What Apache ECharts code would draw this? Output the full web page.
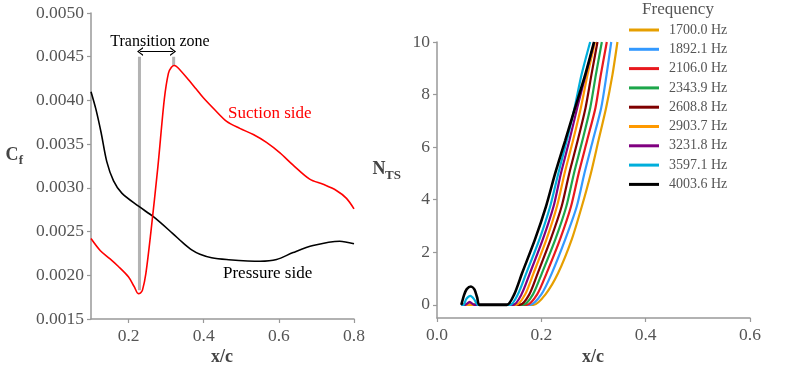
<!DOCTYPE html>
<html>
<head>
<meta charset="utf-8">
<script src="https://cdn.jsdelivr.net/npm/echarts@6/dist/echarts.min.js"></script>
<style>
  body { margin: 0; background: #fff; }
  #box { width: 794px; height: 373px; }
</style>
</head>
<body>
<div id="box"></div>
<script>
// ---- left panel: skin friction ----
var suctionSide = [
  [0.1, 0.00242], [0.125, 0.00228], [0.15, 0.00219], [0.173, 0.0021], [0.2, 0.00198],
  [0.215, 0.00187], [0.226, 0.00179], [0.232, 0.0018], [0.237, 0.00183], [0.246, 0.00202],
  [0.259, 0.00248], [0.278, 0.00324], [0.295, 0.00401], [0.306, 0.00431], [0.314, 0.00438],
  [0.322, 0.0044], [0.33, 0.00438], [0.355, 0.00426], [0.38, 0.00413], [0.399, 0.00403],
  [0.43, 0.00389], [0.461, 0.00376], [0.496, 0.00368], [0.532, 0.00361], [0.567, 0.00352],
  [0.603, 0.0034], [0.638, 0.00326], [0.682, 0.0031], [0.718, 0.00304], [0.753, 0.00297],
  [0.78, 0.00288], [0.8, 0.00276]
];
var pressureSide = [
  [0.1, 0.0041], [0.113, 0.0039], [0.127, 0.00363], [0.142, 0.0033], [0.16, 0.00308],
  [0.182, 0.00294], [0.2265, 0.00279], [0.266, 0.00267], [0.317, 0.00248], [0.345, 0.00237],
  [0.368, 0.00229], [0.39, 0.00224], [0.421, 0.0022], [0.461, 0.00218], [0.55, 0.00216],
  [0.594, 0.00218], [0.638, 0.00226], [0.691, 0.00234], [0.762, 0.00239], [0.8, 0.00236]
];
var transStart = [[0.229, 0.00183], [0.229, 0.0045]];
var transEnd = [[0.32, 0.0044], [0.32, 0.0045]];
var cfXTicks = [0.2, 0.4, 0.6, 0.8];

// ---- right panel: N factor per frequency ----
var freqNames = ['1700.0 Hz', '1892.1 Hz', '2106.0 Hz', '2343.9 Hz', '2608.8 Hz',
                 '2903.7 Hz', '3231.8 Hz', '3597.1 Hz', '4003.6 Hz'];
var freqColors = ['#e69f00', '#3399ff', '#e8191e', '#1da64a', '#7f0000',
                  '#ff9900', '#800080', '#00aedb', '#000000'];
// N values at which the rising branch is read
var ntsLevels = [0, 0.4, 1.2, 2.5, 3.75, 5, 6.25, 7.5, 8.75, 10];
// x/c positions of the rising branch for each frequency (same order as freqNames)
var riseX = [
  [0.185, 0.208, 0.232, 0.2585, 0.2777, 0.2949, 0.3095, 0.3242, 0.3363, 0.3459],
  [0.178, 0.200, 0.220, 0.246, 0.268, 0.2825, 0.2987, 0.3148, 0.325, 0.334],
  [0.172, 0.192, 0.210, 0.236, 0.257, 0.2715, 0.2877, 0.3038, 0.314, 0.3255],
  [0.165, 0.184, 0.201, 0.227, 0.248, 0.2625, 0.2787, 0.2938, 0.3045, 0.316],
  [0.159, 0.177, 0.193, 0.218, 0.239, 0.2535, 0.2697, 0.2848, 0.296, 0.3076],
  [0.152, 0.169, 0.185, 0.210, 0.230, 0.2445, 0.2607, 0.2758, 0.2885, 0.303],
  [0.146, 0.162, 0.178, 0.203, 0.2235, 0.2375, 0.2537, 0.2688, 0.285, 0.3015],
  [0.140, 0.155, 0.171, 0.1965, 0.217, 0.2325, 0.2487, 0.2638, 0.277, 0.2936],
  [0.134, 0.148, 0.163, 0.188, 0.209, 0.2265, 0.2457, 0.2648, 0.284, 0.301]
];
// small hump near the leading edge (only the highest frequencies)
var humps = [
  [[0.0466, 0], [0.0816, 0]],
  [[0.0466, 0], [0.0816, 0]],
  [[0.0466, 0], [0.0816, 0]],
  [[0.0466, 0], [0.0816, 0]],
  [[0.0466, 0], [0.0816, 0]],
  [[0.0466, 0], [0.0816, 0]],
  [[0.0466, 0], [0.054, 0], [0.0625, 0.11], [0.0715, 0], [0.0816, 0]],
  [[0.0466, 0], [0.051, 0], [0.056, 0.22], [0.064, 0.34], [0.071, 0.22], [0.078, 0], [0.0816, 0]],
  [[0.0466, 0], [0.052, 0.38], [0.057, 0.6], [0.065, 0.7], [0.072, 0.58], [0.077, 0.28], [0.0816, 0]]
];
var ntsYTicks = [0, 2, 4, 6, 8, 10];

var serif = 'Liberation Serif';
var gridColor = '#999';
var labelColor = '#555';

function axisBase() {
  return {
    type: 'value',
    splitLine: { show: false },
    axisLine: { show: true, onZero: false, lineStyle: { color: gridColor, width: 1.5 } },
    axisTick: { show: true, inside: false, length: 4, lineStyle: { color: gridColor, width: 1.2 } },
    axisLabel: { color: labelColor, fontFamily: serif, fontSize: 17.5 }
  };
}

var xLeft = axisBase();
xLeft.gridIndex = 0; xLeft.min = 0.1; xLeft.max = 0.8;
xLeft.axisLabel.customValues = cfXTicks; xLeft.axisTick.customValues = cfXTicks;
xLeft.axisLabel.margin = 8;

var yLeft = axisBase();
yLeft.gridIndex = 0; yLeft.min = 0.0015; yLeft.max = 0.005; yLeft.interval = 0.0005;
yLeft.axisLabel.formatter = function (v) { return v.toFixed(4); };
yLeft.axisLabel.margin = 7;

var xRight = axisBase();
xRight.gridIndex = 1; xRight.min = 0; xRight.max = 0.6; xRight.interval = 0.2;
xRight.axisLabel.formatter = function (v) { return v.toFixed(1); };
xRight.axisLabel.margin = 8;

var yRight = axisBase();
yRight.gridIndex = 1; yRight.min = -0.5; yRight.max = 10;
yRight.axisLabel.customValues = ntsYTicks; yRight.axisTick.customValues = ntsYTicks;
yRight.axisLabel.margin = 7;

var series = [
  {
    name: 'trans1', type: 'line', xAxisIndex: 0, yAxisIndex: 0, data: transStart,
    symbol: 'none', silent: true, lineStyle: { color: '#b3b3b3', width: 3 }, z: 1
  },
  {
    name: 'trans2', type: 'line', xAxisIndex: 0, yAxisIndex: 0, data: transEnd,
    symbol: 'none', silent: true, lineStyle: { color: '#b3b3b3', width: 3 }, z: 1,
    markLine: {
      silent: true,
      symbol: ['path://M5 0 L10 10 L8.4 10 L5 3.2 L1.6 10 L0 10 Z', 'path://M5 0 L10 10 L8.4 10 L5 3.2 L1.6 10 L0 10 Z'],
      symbolSize: [9, 6],
      label: { show: false },
      lineStyle: { color: '#000', width: 1.2, type: 'solid' },
      data: [[{ coord: [0.2305, 0.00456] }, { coord: [0.3185, 0.00456] }]]
    }
  },
  {
    name: 'Pressure side', type: 'line', xAxisIndex: 0, yAxisIndex: 0, data: pressureSide,
    symbol: 'none', smooth: 0.3, lineStyle: { color: '#000', width: 1.6 }, z: 3
  },
  {
    name: 'Suction side', type: 'line', xAxisIndex: 0, yAxisIndex: 0, data: suctionSide,
    symbol: 'none', smooth: 0.3, lineStyle: { color: '#ff0000', width: 1.6 }, z: 4
  }
];

for (var i = 0; i < freqNames.length; i++) {
  var pts = humps[i].slice();
  for (var k = 0; k < ntsLevels.length; k++) {
    pts.push([riseX[i][k], ntsLevels[k]]);
  }
  series.push({
    name: freqNames[i], type: 'line', xAxisIndex: 1, yAxisIndex: 1, data: pts,
    symbol: 'none', smooth: 0.25, color: freqColors[i],
    lineStyle: { color: freqColors[i], width: i === 8 ? 2.6 : 2.2 }, z: 5 + i
  });
}

var option = {
  animation: false,
  backgroundColor: '#fff',
  grid: [
    { left: 91, top: 13, width: 263, height: 306 },
    { left: 437, top: 42, width: 313, height: 276 }
  ],
  xAxis: [xLeft, xRight],
  yAxis: [yLeft, yRight],
  legend: {
    data: freqNames,
    orient: 'vertical',
    left: 629, top: 22, padding: 0,
    icon: 'rect', itemWidth: 30, itemHeight: 3, itemGap: 3.3,
    textStyle: { fontFamily: serif, fontSize: 14, color: labelColor, lineHeight: 16, padding: [0, 0, 0, 5] }
  },
  graphic: [
    { type: 'text', x: 678, y: 10, style: { text: 'Frequency', font: '17px "Liberation Serif"', fill: labelColor, align: 'center', verticalAlign: 'middle' } },
    { type: 'text', x: 160, y: 42, style: { text: 'Transition zone', font: '16px "Liberation Serif"', fill: '#000', align: 'center', verticalAlign: 'middle' } },
    { type: 'text', x: 228, y: 114, style: { text: 'Suction side', font: '17px "Liberation Serif"', fill: '#ff0000', align: 'left', verticalAlign: 'middle' } },
    { type: 'text', x: 223, y: 274, style: { text: 'Pressure side', font: '17px "Liberation Serif"', fill: '#000', align: 'left', verticalAlign: 'middle' } },
    { type: 'text', x: 12, y: 155, style: { text: 'C', font: 'bold 18px "Liberation Serif"', fill: '#444', align: 'center', verticalAlign: 'middle' } },
    { type: 'text', x: 21, y: 161, style: { text: 'f', font: 'bold 13px "Liberation Serif"', fill: '#444', align: 'center', verticalAlign: 'middle' } },
    { type: 'text', x: 222, y: 357, style: { text: 'x/c', font: 'bold 18px "Liberation Serif"', fill: '#444', align: 'center', verticalAlign: 'middle' } },
    { type: 'text', x: 379, y: 169, style: { text: 'N', font: 'bold 18px "Liberation Serif"', fill: '#444', align: 'center', verticalAlign: 'middle' } },
    { type: 'text', x: 393, y: 176, style: { text: 'TS', font: 'bold 13px "Liberation Serif"', fill: '#444', align: 'center', verticalAlign: 'middle' } },
    { type: 'text', x: 593, y: 357, style: { text: 'x/c', font: 'bold 18px "Liberation Serif"', fill: '#444', align: 'center', verticalAlign: 'middle' } }
  ],
  series: series
};

var myChart = echarts.init(document.getElementById('box'), null, { renderer: 'canvas' });
myChart.setOption(option);
</script>
</body>
</html>
